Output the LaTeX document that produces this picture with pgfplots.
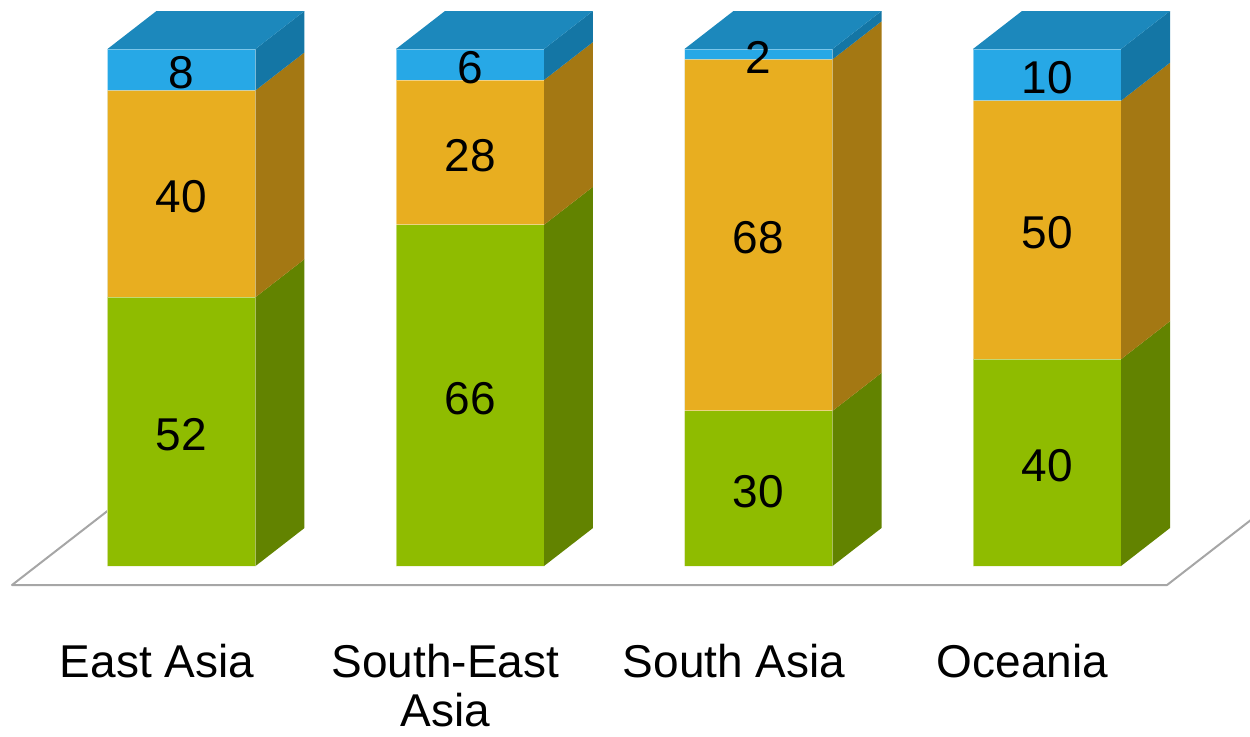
\documentclass[border=0pt]{standalone}
\usepackage{fontspec}
\setmainfont{Liberation Sans}
\usepackage{pgfplots}
\usepackage{pgfplotstable}
\pgfplotsset{compat=1.18}

% face colours: front, side (and top) shades per segment
\definecolor{gfront}{HTML}{8FBC00}
\definecolor{gside}{HTML}{628300}
\definecolor{ofront}{HTML}{E8AE20}
\definecolor{oside}{HTML}{A47813}
\definecolor{bfront}{HTML}{27A8E6}
\definecolor{btop}{HTML}{1C88BC}
\definecolor{bside}{HTML}{1476A5}
\definecolor{floorgray}{HTML}{A6A6A6}

% shares per region (%), stacked bottom to top: g, o, b
\pgfplotstableread{
idx g  o  b
0   52 40 8
1   66 28 6
2   30 68 2
3   40 50 10
}\shares
% running totals and segment midpoints
\pgfplotstablecreatecol[expr={\thisrow{g}+\thisrow{o}}]{go}\shares
\pgfplotstablecreatecol[expr={\thisrow{g}+\thisrow{o}+\thisrow{b}}]{gob}\shares
\pgfplotstablecreatecol[expr={\thisrow{g}/2}]{gm}\shares
\pgfplotstablecreatecol[expr={\thisrow{g}+\thisrow{o}/2}]{om}\shares
\pgfplotstablecreatecol[expr={\thisrow{g}+\thisrow{o}+\thisrow{b}/2}]{bm}\shares

% bar half width and depth offset (axis units)
\newcommand\hw{0.2565}
\newcommand\ddx{0.1698}
\newcommand\ddy{7.35}
\newcommand\lab{\fontsize{46bp}{56bp}\selectfont}

\begin{document}
\begin{tikzpicture}
\begin{axis}[
  width=1250bp, height=736bp, scale only axis,
  xmin=-0.6291, xmax=3.7036, ymin=-32.88, ymax=109.48,
  hide axis, clip=true,
  front/.style={ybar, bar width=0.513, bar shift=0pt, draw=white, draw opacity=0.45, line width=1bp},
  vals/.style={draw=none, no markers, nodes near coords, point meta=explicit symbolic,
    every node near coord/.style={anchor=center, font=\lab, text=black, inner sep=0pt, yshift=-3bp}},
]
% floor outline, behind the bars
\addplot[sharp plot, no markers, floorgray, line width=2bp, line join=round] coordinates {
  (-0.1629,14.70) (-0.5875,-3.675) (3.416,-3.675) (3.8405,14.70)};

% front faces, painted from the full stack down
\addplot[front, fill=bfront] table[x=idx, y=gob] {\shares};
\addplot[front, fill=ofront] table[x=idx, y=go] {\shares};
\addplot[front, fill=gfront] table[x=idx, y=g] {\shares};

% side and top faces
\pgfplotsinvokeforeach{0,1,2,3}{
  \pgfplotstablegetelem{#1}{g}\of\shares \edef\ya{\pgfplotsretval}
  \pgfplotstablegetelem{#1}{go}\of\shares \edef\yb{\pgfplotsretval}
  \pgfplotstablegetelem{#1}{gob}\of\shares \edef\yc{\pgfplotsretval}
  \pgfmathsetmacro\yad{\ya+\ddy}
  \pgfmathsetmacro\ybd{\yb+\ddy}
  \pgfmathsetmacro\ycd{\yc+\ddy}
  \pgfmathsetmacro\xr{#1+\hw}
  \pgfmathsetmacro\xl{#1-\hw}
  \pgfmathsetmacro\xrr{\xr+\ddx}
  \pgfmathsetmacro\xll{\xl+\ddx}
  \edef\barfaces{%
    \noexpand\fill[gside] (axis cs:\xr,0) -- (axis cs:\xrr,\ddy) -- (axis cs:\xrr,\yad) -- (axis cs:\xr,\ya) -- cycle;
    \noexpand\fill[oside] (axis cs:\xr,\ya) -- (axis cs:\xrr,\yad) -- (axis cs:\xrr,\ybd) -- (axis cs:\xr,\yb) -- cycle;
    \noexpand\fill[bside] (axis cs:\xr,\yb) -- (axis cs:\xrr,\ybd) -- (axis cs:\xrr,\ycd) -- (axis cs:\xr,\yc) -- cycle;
    \noexpand\fill[btop] (axis cs:\xl,\yc) -- (axis cs:\xr,\yc) -- (axis cs:\xrr,\ycd) -- (axis cs:\xll,\ycd) -- cycle;
  }%
  \barfaces
}

% segment values, centred in each segment
\addplot[vals] table[x=idx, y=gm, meta=g] {\shares};
\addplot[vals] table[x=idx, y=om, meta=o] {\shares};
\addplot[vals] table[x=idx, y=bm, meta=b] {\shares};

% category names
\node[font=\lab, anchor=base, inner sep=0pt] at (axis cs:-0.0849,-21.47) {East Asia};
\node[font=\lab, anchor=base, inner sep=0pt] at (axis cs:0.9151,-21.47) {South-East};
\node[font=\lab, anchor=base, inner sep=0pt] at (axis cs:0.9151,-30.95) {Asia};
\node[font=\lab, anchor=base, inner sep=0pt] at (axis cs:1.9151,-21.47) {South Asia};
\node[font=\lab, anchor=base, inner sep=0pt] at (axis cs:2.9151,-21.47) {Oceania};
\end{axis}
\pgfresetboundingbox
\path (current axis.south west) rectangle (current axis.north east);
\end{tikzpicture}
\end{document}
